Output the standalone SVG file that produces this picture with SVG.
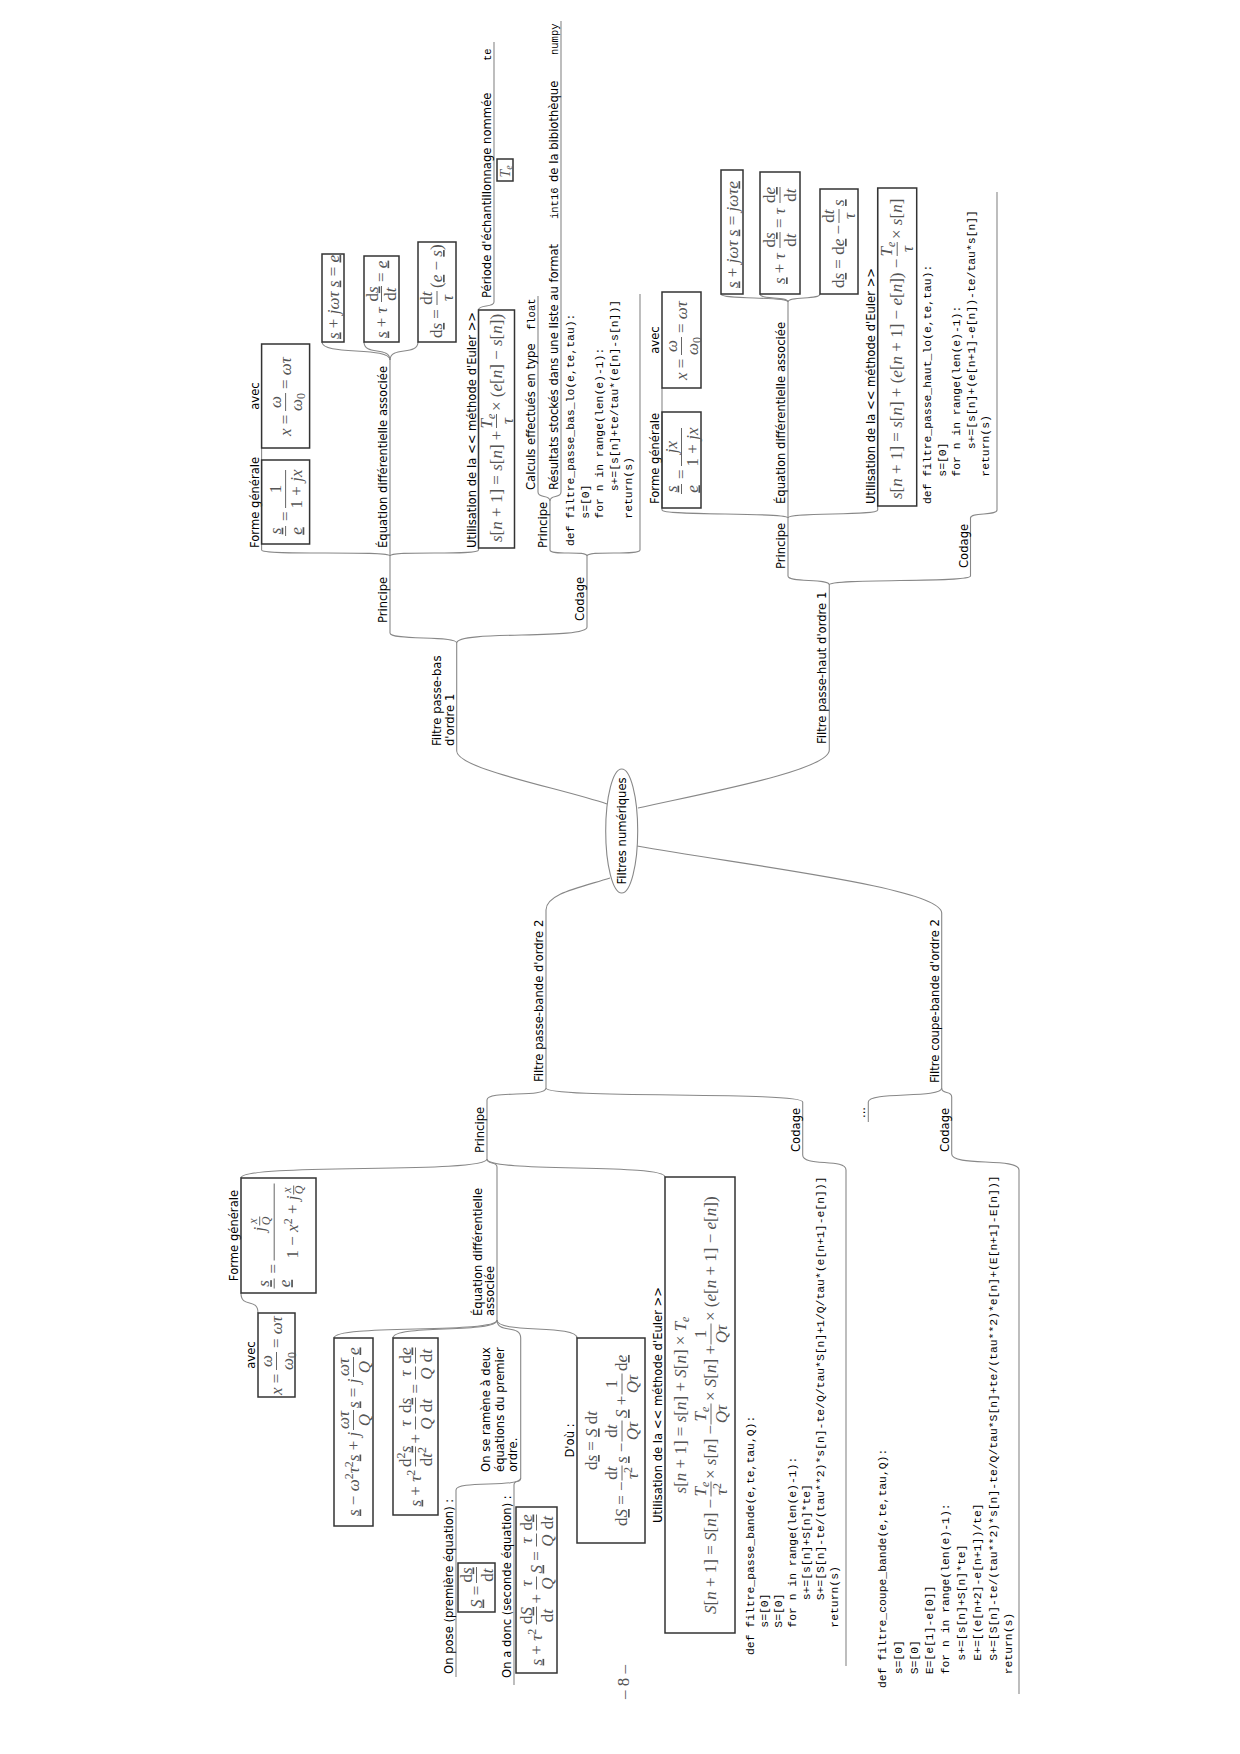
<svg xmlns="http://www.w3.org/2000/svg" width="1240" height="1754" viewBox="0 0 1240 1754">
<style>
.t{font-family:"DejaVu Sans",sans-serif;font-size:11.6px;fill:#000}
.mid{text-anchor:middle}
.k{font-family:"Liberation Mono",monospace;font-size:10.5px;fill:#000}
.c{font-family:"Liberation Mono",monospace;font-size:11.4px;fill:#000;white-space:pre}
.f{font-family:"Liberation Serif","DejaVu Serif",serif;font-size:17px;fill:#555}
.i{font-style:italic}
.u{text-decoration:underline}
.s{font-size:12px}
.ln{stroke:#888;stroke-width:1.1;fill:none}
.bx{fill:none;stroke:#333;stroke-width:1.5}
.fb{stroke:#555;stroke-width:0.9}
</style>
<rect width="1240" height="1754" fill="#fff"/>
<g transform="matrix(0,-1,1,0,0,1754)">
<g id="connectors" class="ln">
<path d="M950 607C966 560 985 457 1003 456.7"/>
<path d="M946 638C962 710 984 829.3 1004 829.3"/>
<path d="M876 610C866 578 860 546 844 546"/>
<path d="M908 637C888 750 866 941.7 841 941.7"/>
<path d="M1111 456.7C1119 456.7 1113 390 1121 390"/>
<path d="M1111 456.7C1124 456.7 1114 587 1127 587"/>
<path d="M1198 390C1204 390 1198 261.6 1204 261.6"/>
<path d="M1198 390H1204"/>
<path d="M1198 390C1204 390 1198 478.5 1204 478.5"/>
<path d="M1300 261.6H1306"/>
<path d="M1394 390C1408 390 1398 322 1412 322"/>
<path d="M1394 390C1408 390 1398 364 1412 364"/>
<path d="M1394 390C1408 390 1398 418 1412 418"/>
<path d="M1444 478.5C1450 478.5 1446 494 1452 494"/>
<path d="M1198 587C1204 587 1198 550 1204 550"/>
<path d="M1198 587C1204 587 1198 640 1204 640"/>
<path d="M1253 550C1260 550 1255 538 1262 538"/>
<path d="M1253 550C1260 550 1255 561 1262 561"/>
<path d="M1169 829.3C1176 829.3 1171 788 1178 788"/>
<path d="M1169 829.3C1176 829.3 1171 970.5 1178 970.5"/>
<path d="M1236 788C1242 788 1238 662 1244 662"/>
<path d="M1236 788H1244"/>
<path d="M1236 788C1242 788 1238 877.7 1244 877.7"/>
<path d="M1344 662H1366"/>
<path d="M1452 788C1458 788 1454 721 1460 721"/>
<path d="M1452 788C1458 788 1454 760 1460 760"/>
<path d="M1452 788C1458 788 1454 820 1460 820"/>
<path d="M1236 970.5C1242 970.5 1238 997 1244 997"/>
<path d="M666 546C656 546 664 487 654 487"/>
<path d="M666 546C655 546 663 802.7 652 802.7"/>
<path d="M595 487C580 487 591 241 576 241"/>
<path d="M595 487C589 487 593 497 587 497"/>
<path d="M595 487C581 487 591 665 577 665"/>
<path d="M461 241C445 241 457 258 441 258"/>
<path d="M434 497C420 497 430 334 416 334"/>
<path d="M434 497C420 497 430 393 416 393"/>
<path d="M434 497C420 497 430 520.7 416 520.7"/>
<path d="M434 497C420 497 430 577 416 577"/>
<path d="M276 520.7C266 520.7 274 456 264 456"/>
<path d="M276 520.7C270 520.7 275 514 269 514"/>
<path d="M599 802.7C587 802.7 596 846 584 846"/>
<path d="M666 941.7C655 941.7 663 868.3 652 868.3"/>
<path d="M666 941.7C659 941.7 664 951.7 657 951.7"/>
<path d="M600 951.7C587 951.7 597 1019 584 1019"/>
</g>

<g id="root">
<ellipse cx="923" cy="621.7" rx="62" ry="16" fill="#fff" stroke="#888" stroke-width="1.1"/>
<text class="t mid" x="923" y="625.7">Filtres numériques</text>
</g>

<!-- passe-bas -->
<g id="pb">
<line class="ln" x1="1003" y1="456.7" x2="1111" y2="456.7"/>
<text class="t" x="1008" y="441">Filtre passe-bas</text>
<text class="t" x="1008" y="453.5">d'ordre 1</text>
</g>
<g id="pb_principe"><line class="ln" x1="1121" y1="390" x2="1198" y2="390"/><text class="t" x="1131" y="387">Principe</text></g>
<g id="pb_codage"><line class="ln" x1="1127" y1="587" x2="1198" y2="587"/><text class="t" x="1133" y="584">Codage</text></g>
<g id="pb_forme">
<line class="ln" x1="1204" y1="261.6" x2="1300" y2="261.6"/>
<text class="t" x="1206" y="258.5">Forme générale</text>
<rect class="bx" x="1210" y="261.6" width="84" height="48"/>
<g transform="translate(1219,285.6)">
<text class="f mid i u" x="4" y="-5">s</text><line class="fb" x1="-1" y1="0" x2="9" y2="0"/><text class="f mid i u" x="4" y="16">e</text>
<text class="f" x="14" y="5">=</text>
<text class="f mid" x="46" y="-5">1</text><line class="fb" x1="27" y1="0" x2="65" y2="0"/><text class="f mid" x="46" y="16">1 + <tspan class="i">jx</tspan></text>
</g>
</g>
<g id="pb_avec">
<rect class="bx" x="1306" y="261.6" width="104" height="48"/>
<text class="t mid" x="1358" y="258.5">avec</text>
<g transform="translate(1318,285.6)">
<text class="f" x="0" y="5"><tspan class="i">x</tspan> =</text>
<text class="f mid i" x="34" y="-5">ω</text><line class="fb" x1="25" y1="0" x2="43" y2="0"/><text class="f mid" x="34" y="16"><tspan class="i">ω</tspan><tspan class="s" dy="3">0</tspan></text>
<text class="f" x="47" y="5">= <tspan class="i">ωτ</tspan></text>
</g>
</g>
<g id="pb_eq"><line class="ln" x1="1204" y1="390" x2="1394" y2="390"/><text class="t" x="1206" y="387">Équation différentielle associée</text></g>
<g id="pb_eq1"><rect class="bx" x="1412" y="322" width="88" height="22"/><text class="f" x="1415" y="338.5"><tspan class="i u">s</tspan> + <tspan class="i">jωτ</tspan> <tspan class="i u">s</tspan> = <tspan class="i u">e</tspan></text></g>
<g id="pb_eq2"><rect class="bx" x="1412" y="364" width="86" height="35"/>
<g transform="translate(1416,381.5)">
<text class="f" x="0" y="5"><tspan class="i u">s</tspan> + <tspan class="i">τ</tspan></text>
<text class="f mid" x="44" y="-4">d<tspan class="i u">s</tspan></text><line class="fb" x1="36" y1="0" x2="52" y2="0"/><text class="f mid" x="44" y="14.5">d<tspan class="i">t</tspan></text>
<text class="f" x="56" y="5">= <tspan class="i u">e</tspan></text>
</g></g>
<g id="pb_eq3"><rect class="bx" x="1412" y="418" width="100" height="38"/>
<g transform="translate(1416,437)">
<text class="f" x="0" y="5">d<tspan class="i u">s</tspan> =</text>
<text class="f mid" x="40" y="-5">d<tspan class="i">t</tspan></text><line class="fb" x1="33" y1="0" x2="47" y2="0"/><text class="f mid i" x="40" y="16">τ</text>
<text class="f" x="50" y="5">(<tspan class="i u">e</tspan> − <tspan class="i u">s</tspan>)</text>
</g></g>
<g id="pb_euler">
<line class="ln" x1="1204" y1="478.5" x2="1444" y2="478.5"/>
<text class="t" x="1206" y="475.5">Utilisation de la &lt;&lt; méthode d'Euler &gt;&gt;</text>
<rect class="bx" x="1206" y="478.5" width="238" height="36"/>
<g transform="translate(1212,496.5)">
<text class="f" x="0" y="5"><tspan class="i">s</tspan>[<tspan class="i">n</tspan> + 1] = <tspan class="i">s</tspan>[<tspan class="i">n</tspan>] +</text>
<text class="f mid" x="121" y="-5"><tspan class="i">T</tspan><tspan class="s i" dy="3">e</tspan></text><line class="fb" x1="114" y1="0" x2="128" y2="0"/><text class="f mid i" x="121" y="16">τ</text>
<text class="f" x="131" y="5">× (<tspan class="i">e</tspan>[<tspan class="i">n</tspan>] − <tspan class="i">s</tspan>[<tspan class="i">n</tspan>])</text>
</g>
</g>
<g id="pb_periode">
<line class="ln" x1="1452" y1="494" x2="1712" y2="494"/>
<text class="t" x="1456" y="491">Période d'échantillonnage nommée</text>
<text class="k" x="1693" y="491">te</text>
<rect class="bx" x="1573" y="497" width="22" height="16"/>
<text class="f i" x="1576.5" y="509.5" style="font-size:14px">T<tspan style="font-size:10px" dy="2.5">e</tspan></text>
</g>
<g id="pb_cprincipe"><line class="ln" x1="1204" y1="550" x2="1253" y2="550"/><text class="t" x="1206" y="547">Principe</text></g>
<g id="pb_calc"><line class="ln" x1="1262" y1="538" x2="1458" y2="538"/><text class="t" x="1264" y="535">Calculs effectués en type</text><text class="k" x="1424" y="535">float</text></g>
<g id="pb_result"><line class="ln" x1="1262" y1="561" x2="1733" y2="561"/><text class="t" x="1264" y="558">Résultats stockés dans une liste au format</text><text class="k" x="1535" y="558">int16</text><text class="t" x="1572" y="558">de la bibiothèque</text><text class="k" x="1699" y="558">numpy</text></g>
<g id="pb_code">
<line class="ln" x1="1204" y1="640" x2="1460" y2="640"/>
<text class="c" xml:space="preserve" x="1208" y="574">def filtre_passe_bas_lo(e,te,tau):</text>
<text class="c" xml:space="preserve" x="1208" y="588.5">    s=[0]</text>
<text class="c" xml:space="preserve" x="1208" y="603">    for n in range(len(e)-1):</text>
<text class="c" xml:space="preserve" x="1208" y="617.5">        s+=[s[n]+te/tau*(e[n]-s[n])]</text>
<text class="c" xml:space="preserve" x="1208" y="632">    return(s)</text>
</g>

<!-- passe-haut -->
<g id="ph"><line class="ln" x1="1004" y1="829.3" x2="1169" y2="829.3"/><text class="t" x="1010" y="826.3">Filtre passe-haut d'ordre 1</text></g>
<g id="ph_principe"><line class="ln" x1="1178" y1="788" x2="1236" y2="788"/><text class="t" x="1185" y="785">Principe</text></g>
<g id="ph_codage"><line class="ln" x1="1178" y1="970.5" x2="1236" y2="970.5"/><text class="t" x="1186" y="967.5">Codage</text></g>
<g id="ph_forme">
<line class="ln" x1="1244" y1="662" x2="1344" y2="662"/>
<text class="t" x="1250" y="659">Forme générale</text>
<rect class="bx" x="1246" y="662" width="96" height="39"/>
<g transform="translate(1261,681.5)">
<text class="f mid i u" x="4" y="-5">s</text><line class="fb" x1="-1" y1="0" x2="9" y2="0"/><text class="f mid i u" x="4" y="16">e</text>
<text class="f" x="14" y="5">=</text>
<text class="f mid i" x="46" y="-5">jx</text><line class="fb" x1="27" y1="0" x2="65" y2="0"/><text class="f mid" x="46" y="16">1 + <tspan class="i">jx</tspan></text>
</g>
</g>
<g id="ph_avec">
<rect class="bx" x="1366" y="662" width="96" height="39"/>
<text class="t mid" x="1414" y="659">avec</text>
<g transform="translate(1374,681.5)">
<text class="f" x="0" y="5"><tspan class="i">x</tspan> =</text>
<text class="f mid i" x="34" y="-5">ω</text><line class="fb" x1="25" y1="0" x2="43" y2="0"/><text class="f mid" x="34" y="16"><tspan class="i">ω</tspan><tspan class="s" dy="3">0</tspan></text>
<text class="f" x="47" y="5">= <tspan class="i">ωτ</tspan></text>
</g>
</g>
<g id="ph_eq"><line class="ln" x1="1244" y1="788" x2="1452" y2="788"/><text class="t" x="1250" y="785">Équation différentielle associée</text></g>
<g id="ph_eq1"><rect class="bx" x="1460" y="721" width="124" height="22"/><text class="f" x="1466" y="737.5"><tspan class="i u">s</tspan> + <tspan class="i">jωτ</tspan> <tspan class="i u">s</tspan> = <tspan class="i">jωτ</tspan><tspan class="i u">e</tspan></text></g>
<g id="ph_eq2"><rect class="bx" x="1460" y="760" width="122" height="40"/>
<g transform="translate(1470,780)">
<text class="f" x="0" y="5"><tspan class="i u">s</tspan> + <tspan class="i">τ</tspan></text>
<text class="f mid" x="44" y="-5">d<tspan class="i u">s</tspan></text><line class="fb" x1="36" y1="0" x2="52" y2="0"/><text class="f mid" x="44" y="16">d<tspan class="i">t</tspan></text>
<text class="f" x="56" y="5">= <tspan class="i">τ</tspan></text>
<text class="f mid" x="89" y="-5">d<tspan class="i u">e</tspan></text><line class="fb" x1="81" y1="0" x2="97" y2="0"/><text class="f mid" x="89" y="16">d<tspan class="i">t</tspan></text>
</g></g>
<g id="ph_eq3"><rect class="bx" x="1460" y="820" width="105" height="38"/>
<g transform="translate(1466,839)">
<text class="f" x="0" y="5">d<tspan class="i u">s</tspan> = d<tspan class="i u">e</tspan> −</text>
<text class="f mid" x="72" y="-5">d<tspan class="i">t</tspan></text><line class="fb" x1="65" y1="0" x2="79" y2="0"/><text class="f mid i" x="72" y="16">τ</text>
<text class="f i u" x="82" y="5">s</text>
</g></g>
<g id="ph_euler">
<line class="ln" x1="1244" y1="877.7" x2="1566" y2="877.7"/>
<text class="t" x="1250" y="874.7">Utilisation de la &lt;&lt; méthode d'Euler &gt;&gt;</text>
<rect class="bx" x="1248" y="877.7" width="318" height="39"/>
<g transform="translate(1255,897.2)">
<text class="f" x="0" y="5"><tspan class="i">s</tspan>[<tspan class="i">n</tspan> + 1] = <tspan class="i">s</tspan>[<tspan class="i">n</tspan>] + (<tspan class="i">e</tspan>[<tspan class="i">n</tspan> + 1] − <tspan class="i">e</tspan>[<tspan class="i">n</tspan>]) −</text>
<text class="f mid" x="250" y="-5"><tspan class="i">T</tspan><tspan class="s i" dy="3">e</tspan></text><line class="fb" x1="243" y1="0" x2="257" y2="0"/><text class="f mid i" x="250" y="16">τ</text>
<text class="f" x="260" y="5">× <tspan class="i">s</tspan>[<tspan class="i">n</tspan>]</text>
</g>
</g>
<g id="ph_code">
<line class="ln" x1="1244" y1="997" x2="1562" y2="997"/>
<text class="c" xml:space="preserve" x="1250" y="931">def filtre_passe_haut_lo(e,te,tau):</text>
<text class="c" xml:space="preserve" x="1250" y="945.5">    s=[0]</text>
<text class="c" xml:space="preserve" x="1250" y="960">    for n in range(len(e)-1):</text>
<text class="c" xml:space="preserve" x="1250" y="974.5">        s+=[s[n]+(e[n+1]-e[n])-te/tau*s[n]]</text>
<text class="c" xml:space="preserve" x="1250" y="989">    return(s)</text>
</g>

<!-- passe-bande -->
<g id="pbd"><line class="ln" x1="666" y1="546" x2="844" y2="546"/><text class="t" x="672" y="543">Filtre passe-bande d'ordre 2</text></g>
<g id="pbd_principe"><line class="ln" x1="595" y1="487" x2="654" y2="487"/><text class="t" x="601" y="484">Principe</text></g>
<g id="pbd_codage"><line class="ln" x1="599" y1="802.7" x2="652" y2="802.7"/><text class="t" x="602" y="799.7">Codage</text></g>
<g id="pbd_forme">
<text class="t mid" x="518.5" y="238">Forme générale</text>
<rect class="bx" x="461" y="241" width="115" height="75"/>
<g transform="translate(466.5,274.2)">
<text class="f mid i u" x="4" y="-5">s</text><line class="fb" x1="-1" y1="0" x2="9" y2="0"/><text class="f mid i u" x="4" y="16">e</text>
<text class="f" x="14" y="5">=</text>
<line class="fb" x1="27" y1="0" x2="104" y2="0"/>
<text class="f i" x="56" y="-9">j</text>
<text class="f mid i s" x="66.5" y="-17">x</text><line class="fb" x1="62" y1="-14.5" x2="71" y2="-14.5"/><text class="f mid i s" x="66.5" y="-4">Q</text>
<text class="f" x="29" y="24">1 − <tspan class="i">x</tspan><tspan class="s" dy="-6">2</tspan><tspan dy="6"> + </tspan><tspan class="i">j</tspan></text>
<text class="f mid i s" x="97.5" y="16.5">x</text><line class="fb" x1="93" y1="19.5" x2="102" y2="19.5"/><text class="f mid i s" x="97.5" y="29">Q</text>
</g>
</g>
<g id="pbd_avec">
<rect class="bx" x="357" y="258" width="84" height="37"/>
<text class="t mid" x="399" y="255">avec</text>
<g transform="translate(359,276.5)">
<text class="f" x="0" y="5"><tspan class="i">x</tspan> =</text>
<text class="f mid i" x="34" y="-5">ω</text><line class="fb" x1="25" y1="0" x2="43" y2="0"/><text class="f mid" x="34" y="16"><tspan class="i">ω</tspan><tspan class="s" dy="3">0</tspan></text>
<text class="f" x="47" y="5">= <tspan class="i">ωτ</tspan></text>
</g>
</g>
<g id="pbd_eq"><line class="ln" x1="434" y1="497" x2="587" y2="497"/><text class="t" x="438" y="481.5">Équation différentielle</text><text class="t" x="438" y="494">associée</text></g>
<g id="pbd_eq1"><rect class="bx" x="228" y="334" width="188" height="39"/>
<g transform="translate(238,353.5)">
<text class="f" x="0" y="5"><tspan class="i u">s</tspan> − <tspan class="i">ω</tspan><tspan class="s" dy="-6">2</tspan><tspan class="i" dy="6">τ</tspan><tspan class="s" dy="-6">2</tspan><tspan class="i u" dy="6">s</tspan> + <tspan class="i">j</tspan></text>
<text class="f mid i" x="96" y="-5">ωτ</text><line class="fb" x1="86" y1="0" x2="106" y2="0"/><text class="f mid i" x="96" y="16">Q</text>
<text class="f" x="108" y="5"><tspan class="i u">s</tspan> = <tspan class="i">j</tspan></text>
<text class="f mid i" x="149" y="-5">ωτ</text><line class="fb" x1="139" y1="0" x2="159" y2="0"/><text class="f mid i" x="149" y="16">Q</text>
<text class="f i u" x="161" y="5">e</text>
</g></g>
<g id="pbd_eq2"><rect class="bx" x="239" y="393" width="177" height="45"/>
<g transform="translate(247.5,415.5)">
<text class="f" x="0" y="5"><tspan class="i u">s</tspan> + <tspan class="i">τ</tspan><tspan class="s" dy="-6">2</tspan></text>
<text class="f mid" x="50" y="-5">d<tspan class="s" dy="-6">2</tspan><tspan class="i u" dy="6">s</tspan></text><line class="fb" x1="40" y1="0" x2="60" y2="0"/><text class="f mid" x="50" y="16">d<tspan class="i">t</tspan><tspan class="s" dy="-6">2</tspan></text>
<text class="f" x="63" y="5">+</text>
<text class="f mid i" x="83" y="-5">τ</text><line class="fb" x1="77" y1="0" x2="90" y2="0"/><text class="f mid i" x="83" y="16">Q</text>
<text class="f mid" x="101" y="-5">d<tspan class="i u">s</tspan></text><line class="fb" x1="93" y1="0" x2="109" y2="0"/><text class="f mid" x="101" y="16">d<tspan class="i">t</tspan></text>
<text class="f" x="113" y="5">=</text>
<text class="f mid i" x="133" y="-5">τ</text><line class="fb" x1="127" y1="0" x2="140" y2="0"/><text class="f mid i" x="133" y="16">Q</text>
<text class="f mid" x="151" y="-5">d<tspan class="i u">e</tspan></text><line class="fb" x1="143" y1="0" x2="159" y2="0"/><text class="f mid" x="151" y="16">d<tspan class="i">t</tspan></text>
</g></g>
<g id="pbd_ramene">
<line class="ln" x1="276" y1="520.7" x2="416" y2="520.7"/>
<text class="t" x="282" y="490">On se ramène à deux</text>
<text class="t" x="282" y="503.5">équations du premier</text>
<text class="t" x="282" y="517">ordre.</text>
</g>
<g id="pbd_pose">
<line class="ln" x1="77" y1="456" x2="264" y2="456"/>
<text class="t" x="80" y="453">On pose (première équation) :</text>
<rect class="bx" x="142" y="458" width="49" height="37"/>
<g transform="translate(146,476.5)">
<text class="f" x="0" y="5"><tspan class="i u">S</tspan> =</text>
<text class="f mid" x="33" y="-5">d<tspan class="i u">s</tspan></text><line class="fb" x1="25" y1="0" x2="41" y2="0"/><text class="f mid" x="33" y="16">d<tspan class="i">t</tspan></text>
</g>
</g>
<g id="pbd_donc">
<line class="ln" x1="69" y1="514" x2="269" y2="514"/>
<text class="t" x="76" y="511">On a donc (seconde équation) :</text>
<rect class="bx" x="81" y="516" width="166" height="41"/>
<g transform="translate(88.5,536.5)">
<text class="f" x="0" y="5"><tspan class="i u">s</tspan> + <tspan class="i">τ</tspan><tspan class="s" dy="-6">2</tspan></text>
<text class="f mid" x="50" y="-5">d<tspan class="i u">S</tspan></text><line class="fb" x1="41" y1="0" x2="59" y2="0"/><text class="f mid" x="50" y="16">d<tspan class="i">t</tspan></text>
<text class="f" x="62" y="5">+</text>
<text class="f mid i" x="82" y="-5">τ</text><line class="fb" x1="76" y1="0" x2="89" y2="0"/><text class="f mid i" x="82" y="16">Q</text>
<text class="f" x="92" y="5"><tspan class="i u">S</tspan> =</text>
<text class="f mid i" x="125" y="-5">τ</text><line class="fb" x1="119" y1="0" x2="132" y2="0"/><text class="f mid i" x="125" y="16">Q</text>
<text class="f mid" x="143" y="-5">d<tspan class="i u">e</tspan></text><line class="fb" x1="135" y1="0" x2="151" y2="0"/><text class="f mid" x="143" y="16">d<tspan class="i">t</tspan></text>
</g>
</g>
<g id="pbd_dou">
<text class="t mid" x="313.5" y="574">D'où :</text>
<rect class="bx" x="211" y="577" width="205" height="68"/>
<text class="f mid" x="313.5" y="597">d<tspan class="i u">s</tspan> = <tspan class="i u">S</tspan> d<tspan class="i">t</tspan></text>
<g transform="translate(228,622)">
<text class="f" x="0" y="5">d<tspan class="i u">S</tspan> = −</text>
<text class="f mid" x="53" y="-5">d<tspan class="i">t</tspan></text><line class="fb" x1="45.5" y1="0" x2="60.5" y2="0"/><text class="f mid" x="53" y="16"><tspan class="i">τ</tspan><tspan class="s" dy="-6">2</tspan></text>
<text class="f" x="63" y="5"><tspan class="i u">s</tspan> −</text>
<text class="f mid" x="95" y="-5">d<tspan class="i">t</tspan></text><line class="fb" x1="84.5" y1="0" x2="105.5" y2="0"/><text class="f mid i" x="95" y="16">Qτ</text>
<text class="f" x="108" y="5"><tspan class="i u">S</tspan> +</text>
<text class="f mid" x="142" y="-5">1</text><line class="fb" x1="131.5" y1="0" x2="152.5" y2="0"/><text class="f mid i" x="142" y="16">Qτ</text>
<text class="f" x="155" y="5">d<tspan class="i u">e</tspan></text>
</g>
</g>
<g id="pbd_euler">
<text class="t mid" x="349" y="662">Utilisation de la &lt;&lt; méthode d'Euler &gt;&gt;</text>
<rect class="bx" x="121" y="665" width="456" height="70"/>
<text class="f mid" x="349" y="686"><tspan class="i">s</tspan>[<tspan class="i">n</tspan> + 1] = <tspan class="i">s</tspan>[<tspan class="i">n</tspan>] + <tspan class="i">S</tspan>[<tspan class="i">n</tspan>] × <tspan class="i">T</tspan><tspan class="s i" dy="3">e</tspan></text>
<g transform="translate(140,711)">
<text class="f" x="0" y="5"><tspan class="i">S</tspan>[<tspan class="i">n</tspan> + 1] = <tspan class="i">S</tspan>[<tspan class="i">n</tspan>] −</text>
<text class="f mid" x="125" y="-5"><tspan class="i">T</tspan><tspan class="s i" dy="3">e</tspan></text><line class="fb" x1="117.5" y1="0" x2="132.5" y2="0"/><text class="f mid" x="125" y="16"><tspan class="i">τ</tspan><tspan class="s" dy="-6">2</tspan></text>
<text class="f" x="135" y="5">× <tspan class="i">s</tspan>[<tspan class="i">n</tspan>] −</text>
<text class="f mid" x="200" y="-5"><tspan class="i">T</tspan><tspan class="s i" dy="3">e</tspan></text><line class="fb" x1="189.5" y1="0" x2="210.5" y2="0"/><text class="f mid i" x="200" y="16">Qτ</text>
<text class="f" x="213" y="5">× <tspan class="i">S</tspan>[<tspan class="i">n</tspan>] +</text>
<text class="f mid" x="280" y="-5">1</text><line class="fb" x1="269.5" y1="0" x2="290.5" y2="0"/><text class="f mid i" x="280" y="16">Qτ</text>
<text class="f" x="293" y="5">× (<tspan class="i">e</tspan>[<tspan class="i">n</tspan> + 1] − <tspan class="i">e</tspan>[<tspan class="i">n</tspan>])</text>
</g>
</g>
<g id="pbd_code">
<line class="ln" x1="88" y1="846" x2="584" y2="846"/>
<text class="c" xml:space="preserve" x="99" y="754">def filtre_passe_bande(e,te,tau,Q):</text>
<text class="c" xml:space="preserve" x="99" y="768">    s=[0]</text>
<text class="c" xml:space="preserve" x="99" y="782">    S=[0]</text>
<text class="c" xml:space="preserve" x="99" y="796">    for n in range(len(e)-1):</text>
<text class="c" xml:space="preserve" x="99" y="810">        s+=[s[n]+S[n]*te]</text>
<text class="c" xml:space="preserve" x="99" y="824">        S+=[S[n]-te/(tau**2)*s[n]-te/Q/tau*S[n]+1/Q/tau*(e[n+1]-e[n])]</text>
<text class="c" xml:space="preserve" x="99" y="838">    return(s)</text>
</g>

<!-- coupe-bande -->
<g id="cb"><line class="ln" x1="666" y1="941.7" x2="841" y2="941.7"/><text class="t" x="671" y="938.7">Filtre coupe-bande d'ordre 2</text></g>
<g id="cb_dots"><line class="ln" x1="632" y1="868.3" x2="652" y2="868.3"/><text class="t" x="636" y="865.3">...</text></g>
<g id="cb_codage"><line class="ln" x1="600" y1="951.7" x2="657" y2="951.7"/><text class="t" x="602" y="948.7">Codage</text></g>
<g id="cb_code">
<line class="ln" x1="60" y1="1019" x2="584" y2="1019"/>
<text class="c" xml:space="preserve" x="66" y="886">def filtre_coupe_bande(e,te,tau,Q):</text>
<text class="c" xml:space="preserve" x="66" y="901.8">  s=[0]</text>
<text class="c" xml:space="preserve" x="66" y="917.6">  S=[0]</text>
<text class="c" xml:space="preserve" x="66" y="933.4">  E=[e[1]-e[0]]</text>
<text class="c" xml:space="preserve" x="66" y="949.2">  for n in range(len(e)-1):</text>
<text class="c" xml:space="preserve" x="66" y="965">    s+=[s[n]+S[n]*te]</text>
<text class="c" xml:space="preserve" x="66" y="980.8">    E+=[(e[n+2]-e[n+1])/te]</text>
<text class="c" xml:space="preserve" x="66" y="996.6">    S+=[S[n]-te/(tau**2)*s[n]-te/Q/tau*S[n]+te/(tau**2)*e[n]+(E[n+1]-E[n])]</text>
<text class="c" xml:space="preserve" x="66" y="1012.4">  return(s)</text>
</g>

<g id="page_number"><text class="f mid" x="72" y="629">– 8 –</text></g>
</g>
</svg>
